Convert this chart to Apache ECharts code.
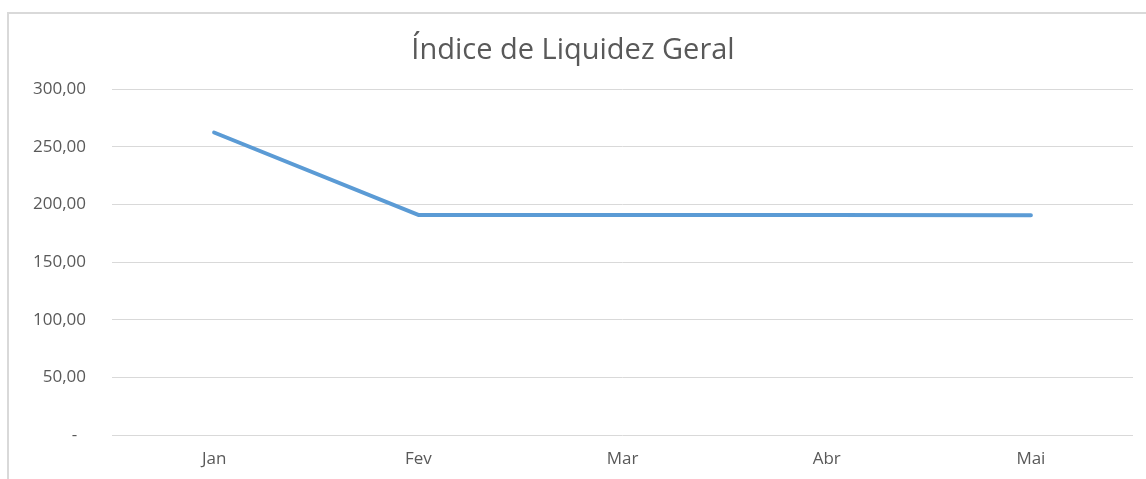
<!DOCTYPE html>
<html>
<head>
<meta charset="utf-8">
<script src="https://cdn.jsdelivr.net/npm/echarts@6/dist/echarts.min.js"></script>
<style>
  html, body { margin: 0; padding: 0; background: #fff; overflow: hidden; }
  #frame {
    position: absolute; left: 7px; top: 12px; width: 1150px; height: 480px;
    border-left: 2px solid #d9d9d9; border-top: 2px solid #d9d9d9;
    box-sizing: border-box;
  }
  #chart { position: absolute; left: 0; top: 0; width: 1146px; height: 479px; }
</style>
</head>
<body>
<div id="frame"></div>
<div id="chart"></div>
<script>
const months = ["Jan", "Fev", "Mar", "Abr", "Mai"];
const liquidez = [262.3, 190.8, 190.8, 190.8, 190.5];
const yTicks = [0, 50, 100, 150, 200, 250, 300];

const chart = echarts.init(document.getElementById("chart"));
const fontFamily = "'Open Sans', 'DejaVu Sans', sans-serif";

const options = {
  animation: false,
  title: {
    text: "Índice de Liquidez Geral",
    left: "center",
    top: 31,
    textStyle: { color: "#595959", fontSize: 29, fontWeight: "normal", fontFamily },
  },
  // plot area
  grid: { left: 112, right: 13, top: 89, bottom: 44, containLabel: false },
  xAxis: {
    type: "category",
    data: months,
    boundaryGap: true,
    axisLine: { show: false },
    axisTick: { show: false },
    axisLabel: { color: "#595959", fontSize: 17, fontFamily, margin: 16 },
  },
  yAxis: {
    type: "value",
    min: yTicks[0],
    max: yTicks[yTicks.length - 1],
    interval: 50,
    axisLine: { show: false },
    axisTick: { show: false },
    splitLine: { lineStyle: { color: "#d9d9d9", width: 1 } },
    axisLabel: {
      color: "#595959",
      fontSize: 17,
      fontFamily,
      margin: 26,
      formatter: (v) => (v === 0 ? "-  " : v.toFixed(2).replace(".", ",")),
    },
  },
  series: [
    {
      type: "line",
      data: liquidez,
      symbol: "none",
      lineStyle: { color: "#5b9bd5", width: 4, cap: "round", join: "round" },
    },
  ],
};

chart.setOption(options);
</script>
</body>
</html>
